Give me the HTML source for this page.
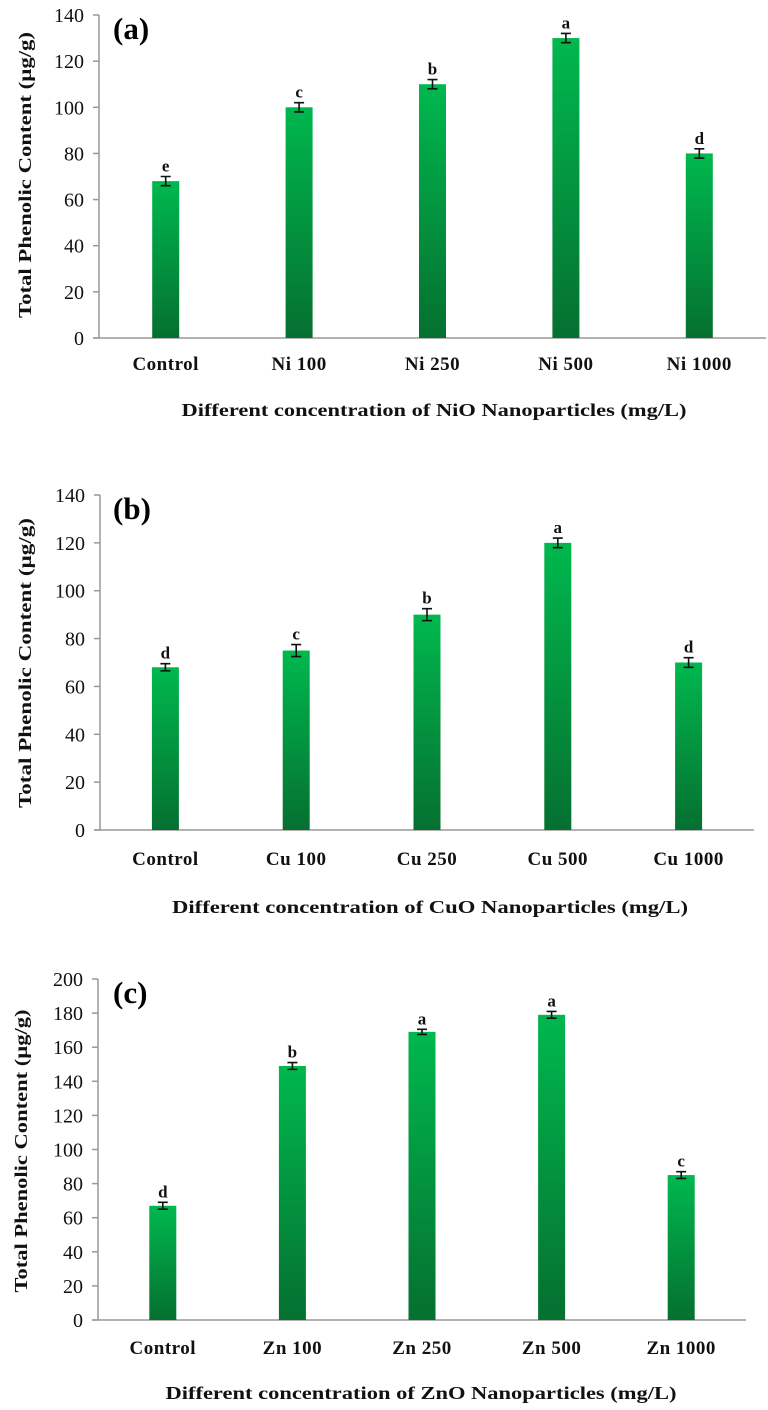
<!DOCTYPE html>
<html><head><meta charset="utf-8"><style>
html,body{margin:0;padding:0;background:#fff;}
svg{display:block;font-family:"Liberation Serif",serif;font-weight:bold;}
</style></head><body>
<svg id="fig" width="768" height="1410" viewBox="0 0 768 1410" xmlns="http://www.w3.org/2000/svg">
<defs>
<linearGradient id="g" x1="0" y1="0" x2="0" y2="1">
<stop offset="0" stop-color="#00b84e"/><stop offset="1" stop-color="#057030"/>
</linearGradient>
</defs>
</svg>
<script>
const catsA = ["Control","Ni 100","Ni 250","Ni 500","Ni 1000"];
const valsA = [68,100,110,130,80];
const errA = [2,2,2,2,2];
const letA = ["e","c","b","a","d"];
const ticksA = [0,20,40,60,80,100,120,140];

const catsB = ["Control","Cu 100","Cu 250","Cu 500","Cu 1000"];
const valsB = [68,75,90,120,70];
const errB = [1.5,2.5,2.5,2,2];
const letB = ["d","c","b","a","d"];
const ticksB = [0,20,40,60,80,100,120,140];

const catsC = ["Control","Zn 100","Zn 250","Zn 500","Zn 1000"];
const valsC = [67,149,169,179,85];
const errC = [2,2,1.5,2,2];
const letC = ["d","b","a","a","c"];
const ticksC = [0,20,40,60,80,100,120,140,160,180,200];

const svg = document.getElementById('fig');
const NS = "http://www.w3.org/2000/svg";
function mk(tag, attrs, parent){
  const e = document.createElementNS(NS, tag);
  for (const k in attrs) e.setAttribute(k, attrs[k]);
  (parent||svg).appendChild(e);
  return e;
}
function panel(id, cats, vals, errs, lets, ticks, L){
  const g = mk('g', {});
  
  
  const max = ticks[ticks.length-1];
  const y = v => L.y0 - (v/max)*(L.y0 - L.yTop);
  const bw = (L.x1 - L.x0)/cats.length;
  const x = i => L.x0 + bw*(i+0.5);
  const ya = mk('line', {x1:L.x0, y1:L.yTop, x2:L.x0, y2:L.y0, stroke:'#999', 'stroke-width':1.5}, g);
  
  
  const xa = mk('line', {x1:L.x0-6, y1:L.y0, x2:L.x1, y2:L.y0, stroke:'#999', 'stroke-width':1.5}, g);
  
  
  ticks.forEach(t => {
    mk('line', {x1:L.x0-6, y1:y(t), x2:L.x0, y2:y(t), stroke:'#999', 'stroke-width':1.5}, g);
    const tl = mk('text', {x:L.x0-15, y:y(t)+7, 'text-anchor':'end', 'font-size':20, 'font-weight':'normal', fill:'#111'}, g);
    tl.textContent = t;
    
    
  });
  cats.forEach((c, i) => {
    const bh = 27;
    const r = mk('rect', {x:x(i)-bh/2, y:y(vals[i]), width:bh, height:L.y0 - y(vals[i]), fill:'url(#g)'}, g);
    
    
    const yt = y(vals[i]+errs[i]), yb = y(vals[i]-errs[i]);
    const eb = mk('path', {d:`M${x(i)-5},${yt}H${x(i)+5}M${x(i)},${yt}V${yb}M${x(i)-5},${yb}H${x(i)+5}`, stroke:'#111', 'stroke-width':1.6, fill:'none'}, g);
    
    
    const lt = mk('text', {x:x(i), y:yt-5, 'text-anchor':'middle', 'font-size':17, fill:'#111'}, g);
    lt.textContent = lets[i];
    
    
    const cl = mk('text', {x:x(i), y:L.catY, 'text-anchor':'middle', 'font-size':19, 'letter-spacing':'0.5', fill:'#111'}, g);
    cl.textContent = c;
    
    
  });
  const xt = mk('text', {x:L.tx, y:L.ty, 'text-anchor':'middle', 'font-size':18, textLength:L.tl, lengthAdjust:'spacingAndGlyphs', fill:'#111'}, g);
  xt.textContent = L.title;
  
  
  const yt = mk('text', {x:0, y:0, 'text-anchor':'middle', 'font-size':18, textLength:L.ylen, lengthAdjust:'spacingAndGlyphs', fill:'#111', transform:`translate(${L.yx},${L.yc}) rotate(-90)`}, g);
  yt.textContent = 'Total Phenolic Content (\u00b5g/g)';
  
  
  const pl = mk('text', {x:113, y:L.yTop+24, 'font-size':31, fill:'#000'}, g);
  pl.textContent = '(' + id + ')';
  
  
}
panel('a', catsA, valsA, errA, letA, ticksA, {x0:99, x1:766, yTop:15, y0:338, catY:370, tx:434, ty:416, tl:505, title:'Different concentration  of NiO Nanoparticles  (mg/L)', yx:31, yc:175, ylen:286});
panel('b', catsB, valsB, errB, letB, ticksB, {x0:100, x1:754, yTop:495, y0:830, catY:865, tx:430, ty:913, tl:516, title:'Different concentration  of CuO Nanoparticles  (mg/L)', yx:31, yc:663, ylen:290});
panel('c', catsC, valsC, errC, letC, ticksC, {x0:98, x1:746, yTop:979, y0:1320, catY:1354, tx:421, ty:1399, tl:511, title:'Different concentration  of ZnO Nanoparticles  (mg/L)', yx:27, yc:1151, ylen:283});
</script>
</body></html>
